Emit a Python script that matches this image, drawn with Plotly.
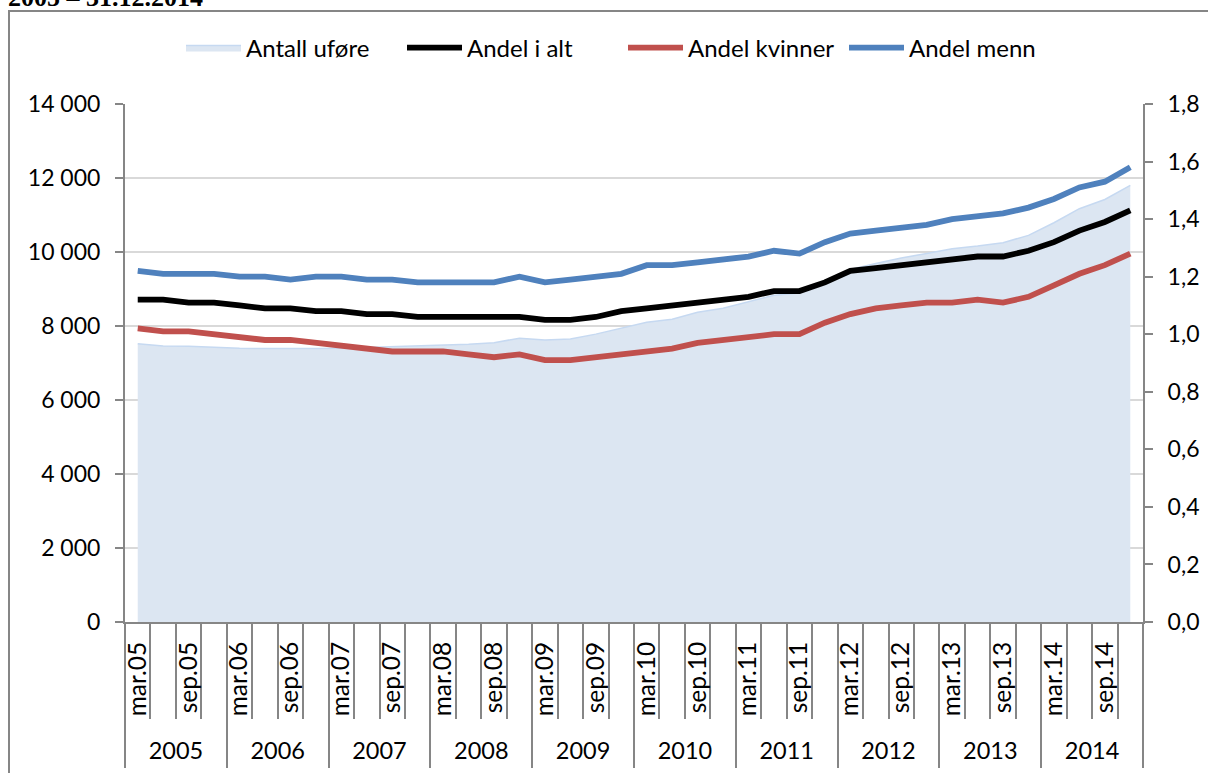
import plotly.graph_objects as go

years = ["2005", "2006", "2007", "2008", "2009", "2010", "2011", "2012", "2013", "2014"]
months = ["mar", "jun", "sep", "des"]
quarters = [f"{m}.{y[2:]}" for y in years for m in months]
quarter_labels = [q if q.startswith(("mar", "sep")) else "" for q in quarters]

antall_ufore = [7520, 7460, 7455, 7425, 7400, 7390, 7385, 7390, 7400, 7420,
                7440, 7460, 7485, 7510, 7550, 7670, 7620, 7650, 7780, 7940,
                8100, 8180, 8370, 8480, 8650, 8830, 8890, 9200, 9530, 9690,
                9840, 9960, 10090, 10160, 10250, 10450, 10790, 11170, 11420, 11800]
andel_i_alt = [1.12, 1.12, 1.11, 1.11, 1.10, 1.09, 1.09, 1.08, 1.08, 1.07,
               1.07, 1.06, 1.06, 1.06, 1.06, 1.06, 1.05, 1.05, 1.06, 1.08,
               1.09, 1.10, 1.11, 1.12, 1.13, 1.15, 1.15, 1.18, 1.22, 1.23,
               1.24, 1.25, 1.26, 1.27, 1.27, 1.29, 1.32, 1.36, 1.39, 1.43]
andel_kvinner = [1.02, 1.01, 1.01, 1.00, 0.99, 0.98, 0.98, 0.97, 0.96, 0.95,
                 0.94, 0.94, 0.94, 0.93, 0.92, 0.93, 0.91, 0.91, 0.92, 0.93,
                 0.94, 0.95, 0.97, 0.98, 0.99, 1.00, 1.00, 1.04, 1.07, 1.09,
                 1.10, 1.11, 1.11, 1.12, 1.11, 1.13, 1.17, 1.21, 1.24, 1.28]
andel_menn = [1.22, 1.21, 1.21, 1.21, 1.20, 1.20, 1.19, 1.20, 1.20, 1.19,
              1.19, 1.18, 1.18, 1.18, 1.18, 1.20, 1.18, 1.19, 1.20, 1.21,
              1.24, 1.24, 1.25, 1.26, 1.27, 1.29, 1.28, 1.32, 1.35, 1.36,
              1.37, 1.38, 1.40, 1.41, 1.42, 1.44, 1.47, 1.51, 1.53, 1.58]

FONT = "Lato"
AXIS = "#868686"

fig = go.Figure()
fig.add_trace(go.Scatter(x=quarters, y=antall_ufore, name="Antall uføre", mode="lines",
                         fill="tozeroy", fillcolor="#DCE6F2",
                         line=dict(color="#C6D9F1", width=1.5), xaxis="x", yaxis="y"))
fig.add_trace(go.Scatter(x=quarters, y=andel_i_alt, name="Andel i alt", mode="lines",
                         line=dict(color="#000000", width=5.8), xaxis="x", yaxis="y2"))
fig.add_trace(go.Scatter(x=quarters, y=andel_kvinner, name="Andel kvinner", mode="lines",
                         line=dict(color="#C0504D", width=5.8), xaxis="x", yaxis="y2"))
fig.add_trace(go.Scatter(x=quarters, y=andel_menn, name="Andel menn", mode="lines",
                         line=dict(color="#4F81BD", width=5.8), xaxis="x", yaxis="y2"))
# empty helper trace so that the year axis (x2 / y3) is instantiated
fig.add_trace(go.Scatter(x=[], y=[], xaxis="x2", yaxis="y3", showlegend=False,
                         hoverinfo="skip", mode="lines"))

H_PAPER = 773 - 104 - 3  # paper height in px
def py(p):  # pixel y -> paper y
    return (770 - p) / H_PAPER
def px(p):
    return (p - 125) / 1018

fig.update_layout(
    template="none",
    width=1208, height=773,
    margin=dict(l=125, r=65, t=104, b=3, autoexpand=False),
    paper_bgcolor="white", plot_bgcolor="white",
    separators=", ",
    font=dict(family=FONT, size=23, color="black"),
    showlegend=True,
    legend=dict(orientation="h", x=px(181), xanchor="left", y=py(48), yanchor="middle",
                font=dict(family=FONT, size=24, color="black"), itemwidth=55,
                entrywidthmode="pixels", entrywidth=151,
                bgcolor="rgba(0,0,0,0)", borderwidth=0),
    xaxis=dict(type="category", categoryorder="array", categoryarray=quarters,
               range=[-0.5, len(quarters) - 0.5],
               domain=[0, 1], anchor="y", automargin=False,
               tickmode="array", tickvals=quarters, ticktext=quarter_labels,
               tickangle=-90, tickson="boundaries", ticks="outside", ticklen=95,
               tickcolor=AXIS, tickwidth=1.5, ticklabelstandoff=8,
               showline=True, linecolor=AXIS, linewidth=2, showgrid=False, zeroline=False,
               tickfont=dict(family=FONT, size=24.5)),
    xaxis2=dict(type="linear", anchor="y3", side="top", domain=[0, 1], automargin=False,
                range=[-0.5, 9.5], tickmode="array", tickvals=list(range(10)), ticktext=years,
                ticks="", showline=False, showgrid=False, zeroline=False,
                ticklabelstandoff=4,
                minor=dict(tickmode="array", tickvals=[i - 0.5 for i in range(11)],
                           ticks="outside", ticklen=146, tickcolor=AXIS, tickwidth=1.5,
                           showgrid=False),
                tickfont=dict(family=FONT, size=23.5)),
    yaxis3=dict(domain=[0, 0.002], anchor="x2", range=[0, 1], showgrid=False, zeroline=False,
                showticklabels=False, ticks="", showline=False),
    yaxis=dict(domain=[py(622), 1], range=[0, 14000], dtick=2000, tickformat=",.0f",
               showgrid=True, gridcolor="#D9D9D9", gridwidth=1.5, zeroline=False,
               showline=True, linecolor=AXIS, linewidth=2, ticks="outside", ticklen=8,
               tickcolor=AXIS, tickwidth=1.5, anchor="x", automargin=False,
               ticklabelstandoff=10,
               tickfont=dict(family=FONT, size=23)),
    yaxis2=dict(overlaying="y", side="right", range=[0, 1.8], dtick=0.2, tickformat=".1f",
                showgrid=False, zeroline=False, showline=True, linecolor=AXIS, linewidth=2,
                ticks="outside", ticklen=8, tickcolor=AXIS, tickwidth=1.5, anchor="x",
                automargin=False, ticklabelstandoff=10,
                tickfont=dict(family=FONT, size=23)),
    shapes=[dict(type="rect", xref="paper", yref="paper",
                 x0=px(9), x1=px(1230), y0=py(790), y1=py(11),
                 line=dict(color=AXIS, width=2), fillcolor="rgba(0,0,0,0)", layer="below")],
    annotations=[dict(text="<b>2005 – 31.12.2014</b>", xref="paper", yref="paper",
                      x=px(6), y=py(14), xanchor="left", yanchor="bottom", showarrow=False,
                      font=dict(family="Liberation Serif", size=26, color="black"))],
)

fig.write_html("out.html", post_script="document.body.style.margin='0';",
               config={"displayModeBar": False})
